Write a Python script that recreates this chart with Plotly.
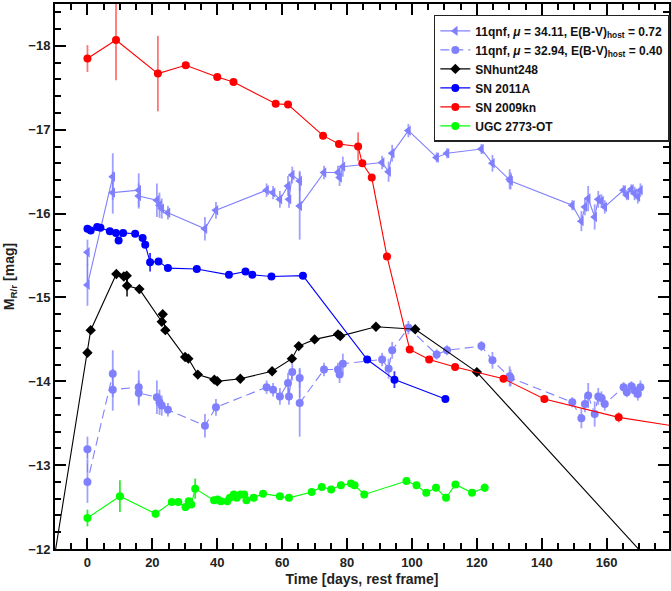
import plotly.graph_objects as go

# ---------------- data ----------------
# 11qnf, mu = 34.11 (triangles, solid)
qnf1_t = [0, 0, 7.8, 7.8, 15.8, 15.8, 21.4, 22.2, 22.9, 24.8, 36.2, 39.6, 55.2, 57.2, 59.3,
          61.8, 62.1, 63.1, 65.4, 65.4, 72.9, 77.2, 77.7, 78.7, 90.8, 92.8, 93.9, 98.9, 107.6,
          110.8, 121.4, 124.8, 130.1, 130.4, 149.4, 152.2, 153.3, 154.3, 156.3, 157.4, 158.4,
          159.4, 165.2, 166.2, 167.6, 168.6, 169.6, 170.4]
qnf1_m = [-15.54, -15.15, -16.44, -16.25, -16.28, -16.21, -16.16, -16.10, -16.06, -16.01, -15.82,
          -16.04, -16.28, -16.25, -16.17, -16.33, -16.17, -16.46, -16.39, -16.09, -16.49, -16.49,
          -16.43, -16.56, -16.61, -16.50, -16.72, -16.99, -16.67, -16.72, -16.77, -16.60, -16.41,
          -16.39, -16.10, -15.91, -16.08, -16.18, -15.96, -16.17, -16.15, -16.08, -16.28, -16.22,
          -16.29, -16.24, -16.20, -16.28]
qnf1_e = [0.15, 0.25, 0.28, 0.25, 0.2, 0.15, 0.2, 0.15, 0.12, 0.08, 0.14, 0.1, 0.08, 0.08, 0.1,
          0.12, 0.1, 0.1, 0.12, 0.4, 0.08, 0.08, 0.1, 0.12, 0.08, 0.12, 0.1, 0.08, 0.06, 0.06,
          0.06, 0.1, 0.12, 0.1, 0.06, 0.12, 0.1, 0.15, 0.15, 0.1, 0.08, 0.08, 0.06, 0.06, 0.06,
          0.08, 0.08, 0.08]

# 11qnf, mu = 32.94 (circles, dashed)
qnf2_t = qnf1_t
qnf2_m = [-13.19, -12.80, -14.09, -13.90, -13.93, -13.86, -13.81, -13.75, -13.71, -13.66, -13.47,
          -13.69, -13.93, -13.90, -13.82, -13.98, -13.82, -14.11, -14.04, -13.74, -14.14, -14.14,
          -14.08, -14.21, -14.26, -14.15, -14.37, -14.64, -14.32, -14.37, -14.42, -14.25, -14.06,
          -14.04, -13.75, -13.56, -13.73, -13.83, -13.61, -13.82, -13.80, -13.73, -13.93, -13.87,
          -13.94, -13.89, -13.85, -13.93]
qnf2_e = qnf1_e

# SNhunt248 (diamonds)
hunt_t = [-15, 0, 1.0, 8.9, 11.2, 12.1, 12.2, 16.0, 22.9, 23.2, 24.0, 30.1, 31.1, 34.0, 39.1, 40.0,
          47.1, 56.9, 63.0, 65.1, 70.0, 77.2, 77.9, 88.9, 101.0, 120.0, 200]
hunt_m = [-10.74, -14.34, -14.61, -15.28, -15.25, -15.26, -15.14, -15.10, -14.71, -14.80, -14.61,
          -14.29, -14.27, -14.08, -14.02, -14.00, -14.03, -14.12, -14.27, -14.42, -14.50, -14.56,
          -14.54, -14.65, -14.62, -14.11, -10.72]
hunt_e = [0, 0.03, 0.03, 0.04, 0.04, 0.04, 0.13, 0.05, 0.04, 0.04, 0.04, 0.03, 0.03, 0.03, 0.03,
          0.03, 0.03, 0.03, 0.03, 0.03, 0.03, 0.03, 0.03, 0.03, 0.03, 0.04, 0]

# SN 2011A (circles)
a11_t = [0, 1, 3, 4, 6.9, 8.8, 9.6, 11.0, 14.7, 17.0, 17.8, 19.3, 21.9, 24.8, 33.7, 43.6, 48.7,
         50.8, 56.7, 66.4, 86.2, 94.6, 110.3]
a11_m = [-15.82, -15.80, -15.84, -15.83, -15.79, -15.77, -15.68, -15.77, -15.76, -15.71, -15.63,
         -15.42, -15.43, -15.35, -15.34, -15.27, -15.31, -15.27, -15.25, -15.26, -14.26, -14.02,
         -13.79]
a11_e = [0.02, 0.02, 0.02, 0.02, 0.02, 0.03, 0.03, 0.03, 0.02, 0.03, 0.03, 0.11, 0.03, 0.03, 0.02,
         0.02, 0.02, 0.02, 0.02, 0.02, 0.03, 0.1, 0.04]

# SN 2009kn (circles)
kn_t = [0, 8.8, 21.7, 30.3, 40.0, 45.0, 58.0, 61.8, 72.6, 77.5, 83.4, 84.7, 87.6, 92.3, 99.3,
        105.3, 113.3, 128.2, 140.8, 163.7, 200]
kn_m = [-17.85, -18.07, -17.67, -17.77, -17.63, -17.57, -17.31, -17.30, -16.93, -16.83, -16.80,
        -16.60, -16.43, -15.49, -14.38, -14.26, -14.17, -14.03, -13.79, -13.57, -13.35]
kn_e = [0.16, 0.48, 0.45, 0.03, 0.03, 0.03, 0.03, 0.04, 0.03, 0.03, 0.17, 0.03, 0.03, 0.03, 0.03,
        0.03, 0.03, 0.04, 0.03, 0.06, 0]

# UGC 2773-OT (circles)
ugc_t = [0, 10, 21, 26, 28, 30.2, 31.2, 32, 33.2, 39, 40.1, 41.1, 43.1, 43.9, 45.1, 46, 47.2, 48.3,
         49, 51.2, 54.1, 59.3, 62.1, 69.1, 72.2, 75.1, 78.1, 81.2, 82.3, 85.3, 98.3, 101.4, 104.4,
         107.4, 110.5, 113.4, 118.5, 122.4]
ugc_m = [-12.37, -12.63, -12.42, -12.56, -12.56, -12.50, -12.57, -12.53, -12.72, -12.58, -12.59,
         -12.57, -12.57, -12.61, -12.65, -12.61, -12.65, -12.65, -12.58, -12.61, -12.66, -12.63,
         -12.61, -12.68, -12.74, -12.71, -12.76, -12.78, -12.76, -12.65, -12.81, -12.76, -12.67,
         -12.73, -12.61, -12.77, -12.67, -12.73]
ugc_e = [0.1, 0.19, 0.05, 0.03, 0.03, 0.03, 0.03, 0.03, 0.12, 0.03, 0.03, 0.03, 0.03, 0.03, 0.03,
         0.03, 0.03, 0.03, 0.03, 0.03, 0.03, 0.03, 0.03, 0.03, 0.03, 0.03, 0.03, 0.03, 0.03, 0.03,
         0.03, 0.03, 0.03, 0.03, 0.03, 0.03, 0.03, 0.05]

names = ["11qnf, <i>\u03bc</i> = 34.11, E(B-V)<sub>host</sub> = 0.72",
         "11qnf, <i>\u03bc</i> = 32.94, E(B-V)<sub>host</sub> = 0.40",
         "SNhunt248", "SN 2011A", "SN 2009kn", "UGC 2773-OT"]

LB = "rgb(128,128,255)"
fig = go.Figure()


def add(t, m, e, name, color, ecolor, symbol, size, dash="solid"):
    fig.add_trace(go.Scatter(
        x=t, y=m, name=name, mode="lines+markers",
        line=dict(color=color, width=1.1, dash=dash),
        marker=dict(color=color, symbol=symbol, size=size, line=dict(width=0)),
        error_y=dict(type="data", array=e, visible=True, color=ecolor, thickness=1.8, width=0),
    ))


add(qnf1_t, qnf1_m, qnf1_e, names[0], LB, "rgba(128,128,255,0.75)", "triangle-left", 9)
add(qnf2_t, qnf2_m, qnf2_e, names[1], LB, "rgba(128,128,255,0.75)", "circle", 8, dash="9px,5px")
add(hunt_t, hunt_m, hunt_e, names[2], "black", "rgba(0,0,0,0.8)", "diamond", 8)
add(a11_t, a11_m, a11_e, names[3], "rgb(0,0,255)", "rgba(0,0,255,0.8)", "circle", 8)
add(kn_t, kn_m, kn_e, names[4], "rgb(255,0,0)", "rgba(255,0,0,0.55)", "circle", 8)
add(ugc_t, ugc_m, ugc_e, names[5], "rgb(0,255,0)", "rgba(0,230,0,0.8)", "circle", 8)

FONT = "Liberation Sans, Arial, sans-serif"
axis_common = dict(
    showline=True, linecolor="black", linewidth=2, mirror="allticks",
    ticks="inside", ticklen=11, tickwidth=2, tickcolor="black",
    showgrid=False, zeroline=False,
    tickfont=dict(family=FONT, size=13, color="#222", weight="bold"),
)
fig.update_xaxes(
    range=[-10, 179.2], dtick=20, tick0=0,
    minor=dict(dtick=5, ticks="inside", ticklen=6, tickwidth=1.5, tickcolor="black"),
    title=dict(text="Time [days, rest frame]", font=dict(family=FONT, size=14, color="#222", weight="bold"),
               standoff=6),
    **axis_common,
)
fig.update_yaxes(
    range=[-12, -18.5], dtick=1, tick0=-12,
    minor=dict(dtick=0.2, ticks="inside", ticklen=6, tickwidth=1.5, tickcolor="black"),
    title=dict(text="M<sub>R/r</sub> [mag]", font=dict(family=FONT, size=14, color="#222", weight="bold"),
               standoff=10),
    **axis_common,
)
fig.update_layout(
    width=671, height=591,
    margin=dict(l=55, r=0, t=4, b=42),
    paper_bgcolor="white", plot_bgcolor="white",
    legend=dict(x=0.617, y=0.98, xanchor="left", yanchor="top",
                bgcolor="white", bordercolor="#222", borderwidth=1.5,
                font=dict(family=FONT, size=12, color="#111", weight="bold"),
                tracegroupgap=0, itemwidth=30),
    showlegend=True,
)
fig.write_html("out.html")
